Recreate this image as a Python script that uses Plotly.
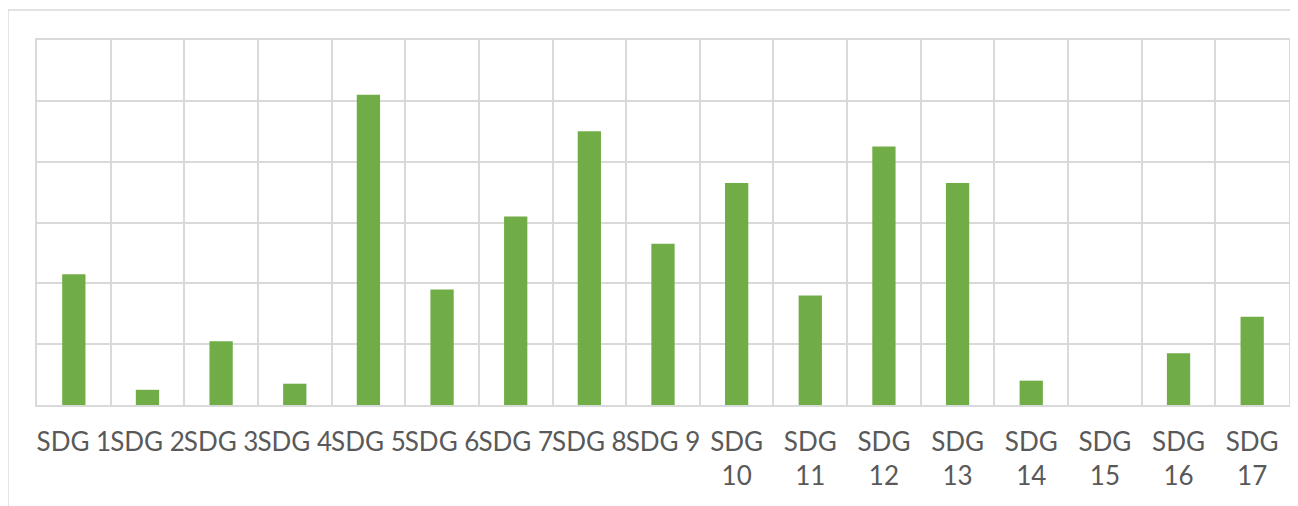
import plotly.graph_objects as go

# nombre de publications par ODD
sdg_labels = ['SDG 1', 'SDG 2', 'SDG 3', 'SDG 4', 'SDG 5', 'SDG 6', 'SDG 7', 'SDG 8', 'SDG 9',
              'SDG<br>10', 'SDG<br>11', 'SDG<br>12', 'SDG<br>13', 'SDG<br>14', 'SDG<br>15',
              'SDG<br>16', 'SDG<br>17']
counts = [43, 5, 21, 7, 102, 38, 62, 90, 53, 73, 36, 85, 73, 8, 0, 17, 29]
y_ticks = [0, 20, 40, 60, 80, 100, 120]

grid = '#d9d9d9'

fig = go.Figure()

fig.add_trace(go.Bar(
    x=sdg_labels, y=counts,
    marker=dict(color='#70ad47', line=dict(width=0)),
    hoverinfo='x+y'
))

# cadre extérieur du graphique
fig.add_shape(type='rect', xref='paper', yref='paper',
              x0=-0.0232, y0=-0.5, x1=1.2, y1=1.082,
              line=dict(color=grid, width=1.5), layer='below')

# la page a une marge de 8px autour de la figure
fig.update_layout(
    width=1290, height=498,
    margin=dict(l=29, r=9, t=32, b=101),
    paper_bgcolor='white', plot_bgcolor='white',
    bargap=0.684,
    showlegend=False,
    font=dict(family='Lato, Noto Sans, sans-serif', size=26, color='#595959'),
    xaxis=dict(
        type='category', tickson='boundaries', tickangle=0,
        showgrid=True, gridcolor=grid, gridwidth=1.5,
        showline=True, mirror=True, linecolor=grid, linewidth=1.5,
        ticks='', ticklabelstandoff=13, automargin=False,
        range=[-0.5, 16.5]
    ),
    yaxis=dict(
        range=[0, 120], tickvals=y_ticks, showticklabels=False,
        showgrid=True, gridcolor=grid, gridwidth=1.5,
        zeroline=False, automargin=False,
        showline=True, mirror=True, linecolor=grid, linewidth=1.5,
        ticks=''
    )
)

fig.write_html("out.html")
